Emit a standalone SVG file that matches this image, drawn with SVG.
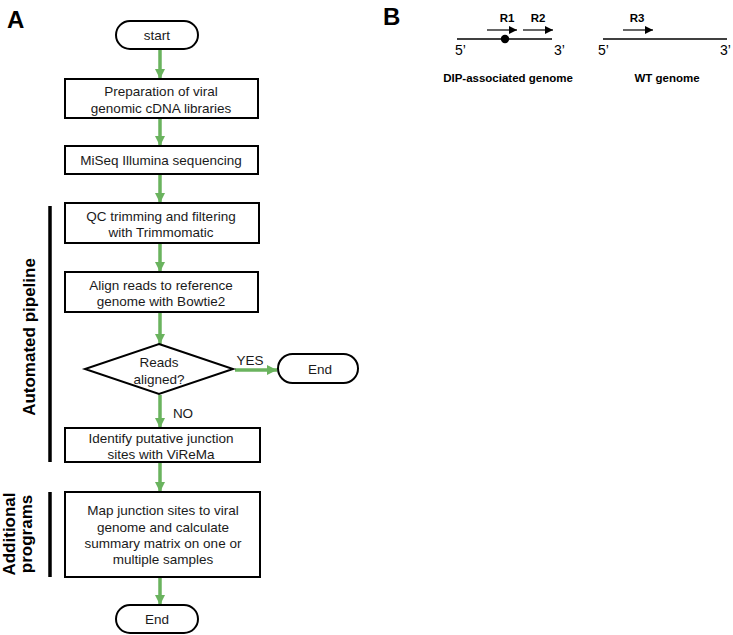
<svg xmlns="http://www.w3.org/2000/svg" width="733" height="635" viewBox="0 0 733 635">
<style>
.box{fill:#fff;stroke:#000;stroke-width:2}
.t{font-family:"Liberation Sans",Arial,sans-serif;font-size:13.5px;fill:#1a1a1a;text-anchor:middle}
.lbl{font-family:"Liberation Sans",Arial,sans-serif;font-size:24px;font-weight:bold;fill:#000}
.side{font-family:"Liberation Sans",Arial,sans-serif;font-size:17px;font-weight:bold;fill:#000;text-anchor:middle}
.bar{stroke:#000;stroke-width:3.5}
.g{stroke:#6ab35e;stroke-width:3.5;fill:none}
.bt{font-family:"Liberation Sans",Arial,sans-serif;font-size:11.5px;font-weight:bold;fill:#000;text-anchor:middle}
.pr{font-family:"Liberation Sans",Arial,sans-serif;font-size:14px;fill:#000}
</style>
<defs>
<marker id="ga" viewBox="0 0 10 10" refX="10" refY="5" markerWidth="3" markerHeight="3" orient="auto" markerUnits="strokeWidth">
<path d="M0,0 L10,5 L0,10 z" fill="#6ab35e"/>
</marker>
<marker id="ba" viewBox="0 0 10 10" refX="10" refY="5" markerWidth="7" markerHeight="7" orient="auto" markerUnits="strokeWidth">
<path d="M0,0 L10,5 L0,10 z" fill="#000"/>
</marker>
</defs>
<rect width="733" height="635" fill="#fff"/>
<text class="lbl" x="7" y="28">A</text>
<text class="lbl" x="383" y="25">B</text>

<g id="connectors">
<line class="g" x1="160" y1="50" x2="160" y2="79" marker-end="url(#ga)"/>
<line class="g" x1="160" y1="119" x2="160" y2="146" marker-end="url(#ga)"/>
<line class="g" x1="160" y1="175" x2="160" y2="203" marker-end="url(#ga)"/>
<line class="g" x1="160" y1="244" x2="160" y2="272" marker-end="url(#ga)"/>
<line class="g" x1="160" y1="313" x2="160" y2="344" marker-end="url(#ga)"/>
<line class="g" x1="235" y1="370" x2="277" y2="370" marker-end="url(#ga)"/>
<line class="g" x1="160" y1="395" x2="160" y2="428" marker-end="url(#ga)"/>
<line class="g" x1="160" y1="463" x2="160" y2="492" marker-end="url(#ga)"/>
<line class="g" x1="160" y1="578" x2="160" y2="605" marker-end="url(#ga)"/>
<text class="t" x="250" y="365">YES</text>
<text class="t" x="183" y="418">NO</text>
</g>

<g id="start">
<rect class="box" x="116" y="21" width="82" height="28" rx="14"/>
<text class="t" x="157" y="40">start</text>
</g>
<g id="prep">
<rect class="box" x="65" y="79" width="193" height="39"/>
<text class="t" x="161" y="96">Preparation of viral</text>
<text class="t" x="161" y="113">genomic cDNA libraries</text>
</g>
<g id="miseq">
<rect class="box" x="65" y="146" width="193" height="28"/>
<text class="t" x="161" y="165">MiSeq Illumina sequencing</text>
</g>
<g id="qc">
<rect class="box" x="65" y="203" width="194" height="40"/>
<text class="t" x="161" y="221">QC trimming and filtering</text>
<text class="t" x="161" y="237">with Trimmomatic</text>
</g>
<g id="align">
<rect class="box" x="65" y="272" width="193" height="40"/>
<text class="t" x="161" y="290">Align reads to reference</text>
<text class="t" x="161" y="306">genome with Bowtie2</text>
</g>
<g id="decision">
<polygon class="box" points="159,344 233,369 159,394 85,369"/>
<text class="t" x="159" y="367">Reads</text>
<text class="t" x="159" y="384">aligned?</text>
</g>
<g id="end1">
<rect class="box" x="278" y="354" width="80" height="29" rx="14.5"/>
<text class="t" x="320" y="374">End</text>
</g>
<g id="identify">
<rect class="box" x="65" y="428" width="195" height="34"/>
<text class="t" x="161" y="443">Identify putative junction</text>
<text class="t" x="161" y="459">sites with ViReMa</text>
</g>
<g id="map">
<rect class="box" x="65" y="492" width="195" height="85"/>
<text class="t" x="163" y="515">Map junction sites to viral</text>
<text class="t" x="163" y="532">genome and calculate</text>
<text class="t" x="163" y="548">summary matrix on one or</text>
<text class="t" x="163" y="564">multiple samples</text>
</g>
<g id="end2">
<rect class="box" x="116" y="605" width="82" height="28" rx="14"/>
<text class="t" x="157" y="624">End</text>
</g>

<g id="automated">
<line class="bar" x1="50" y1="206" x2="50" y2="462"/>
<text class="side" transform="translate(35,337) rotate(-90)">Automated pipeline</text>
</g>
<g id="additional">
<line class="bar" x1="50" y1="492" x2="50" y2="577"/>
<text class="side" transform="translate(15,534) rotate(-90)">Additional</text>
<text class="side" transform="translate(32,534) rotate(-90)">programs</text>
</g>

<g id="dip">
<line x1="457" y1="39" x2="552" y2="39" stroke="#000" stroke-width="1.6"/>
<circle cx="505" cy="39" r="4.2" fill="#000"/>
<line x1="487" y1="30" x2="517" y2="30" stroke="#000" stroke-width="1.2" marker-end="url(#ba)"/>
<line x1="523" y1="30" x2="553" y2="30" stroke="#000" stroke-width="1.2" marker-end="url(#ba)"/>
<text class="bt" x="507" y="22">R1</text>
<text class="bt" x="538" y="22">R2</text>
<text class="pr" x="455" y="55">5’</text>
<text class="pr" x="554" y="55">3’</text>
<text class="bt" x="508" y="82">DIP-associated genome</text>
</g>
<g id="wt">
<line x1="603" y1="39" x2="727" y2="39" stroke="#000" stroke-width="1.6"/>
<line x1="623" y1="30" x2="653" y2="30" stroke="#000" stroke-width="1.2" marker-end="url(#ba)"/>
<text class="bt" x="637" y="22">R3</text>
<text class="pr" x="598" y="55">5’</text>
<text class="pr" x="720" y="55">3’</text>
<text class="bt" x="667" y="82">WT genome</text>
</g>
</svg>
